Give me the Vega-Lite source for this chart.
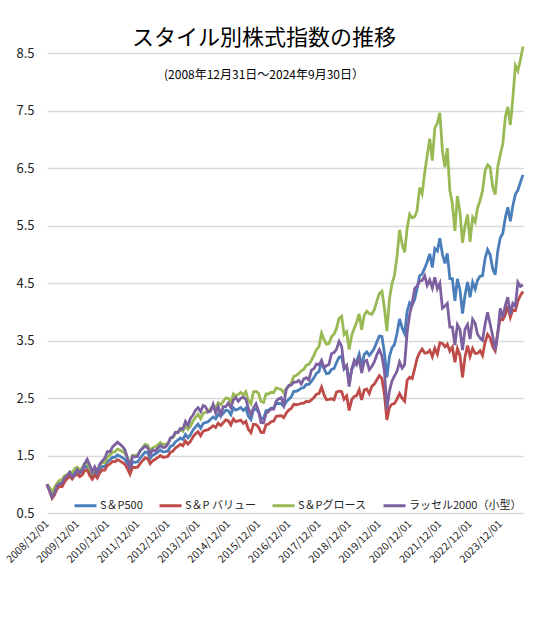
{
  "$schema": "https://vega.github.io/schema/vega-lite/v6.json",
  "width": 476,
  "height": 460,
  "autosize": {"type": "none"},
  "padding": {"left": 47, "top": 53, "right": 17, "bottom": 105},
  "background": "white",
  "title": {
    "text": "スタイル別株式指数の推移",
    "subtitle": "(2008年12月31日～2024年9月30日）",
    "font": "Noto Sans CJK JP",
    "fontSize": 22,
    "fontWeight": "normal",
    "color": "#000000",
    "subtitleFont": "Noto Sans CJK JP",
    "subtitleFontSize": 12,
    "subtitleColor": "#000000",
    "subtitlePadding": 20,
    "anchor": "middle",
    "frame": "group",
    "dx": -21,
    "offset": -41
  },
  "datasets": {
    "sp500": [
      {"d":"2008/12/01","v":1.000},
      {"d":"2009/01/01","v":0.914},{"d":"2009/02/01","v":0.814},{"d":"2009/03/01","v":0.883},{"d":"2009/04/01","v":0.966},{"d":"2009/05/01","v":1.018},{"d":"2009/06/01","v":1.018},{"d":"2009/07/01","v":1.093},{"d":"2009/08/01","v":1.130},{"d":"2009/09/01","v":1.170},{"d":"2009/10/01","v":1.147},{"d":"2009/11/01","v":1.213},{"d":"2009/12/01","v":1.235},
      {"d":"2010/01/01","v":1.189},{"d":"2010/02/01","v":1.223},{"d":"2010/03/01","v":1.295},{"d":"2010/04/01","v":1.314},{"d":"2010/05/01","v":1.206},{"d":"2010/06/01","v":1.141},{"d":"2010/07/01","v":1.220},{"d":"2010/08/01","v":1.162},{"d":"2010/09/01","v":1.263},{"d":"2010/10/01","v":1.310},{"d":"2010/11/01","v":1.307},{"d":"2010/12/01","v":1.392},
      {"d":"2011/01/01","v":1.424},{"d":"2011/02/01","v":1.469},{"d":"2011/03/01","v":1.468},{"d":"2011/04/01","v":1.510},{"d":"2011/05/01","v":1.489},{"d":"2011/06/01","v":1.462},{"d":"2011/07/01","v":1.431},{"d":"2011/08/01","v":1.350},{"d":"2011/09/01","v":1.253},{"d":"2011/10/01","v":1.388},{"d":"2011/11/01","v":1.381},{"d":"2011/12/01","v":1.392},
      {"d":"2012/01/01","v":1.453},{"d":"2012/02/01","v":1.512},{"d":"2012/03/01","v":1.559},{"d":"2012/04/01","v":1.548},{"d":"2012/05/01","v":1.451},{"d":"2012/06/01","v":1.508},{"d":"2012/07/01","v":1.527},{"d":"2012/08/01","v":1.557},{"d":"2012/09/01","v":1.595},{"d":"2012/10/01","v":1.563},{"d":"2012/11/01","v":1.568},{"d":"2012/12/01","v":1.579},
      {"d":"2013/01/01","v":1.659},{"d":"2013/02/01","v":1.677},{"d":"2013/03/01","v":1.737},{"d":"2013/04/01","v":1.769},{"d":"2013/05/01","v":1.805},{"d":"2013/06/01","v":1.778},{"d":"2013/07/01","v":1.866},{"d":"2013/08/01","v":1.808},{"d":"2013/09/01","v":1.862},{"d":"2013/10/01","v":1.945},{"d":"2013/11/01","v":1.999},{"d":"2013/12/01","v":2.046},
      {"d":"2014/01/01","v":1.974},{"d":"2014/02/01","v":2.059},{"d":"2014/03/01","v":2.073},{"d":"2014/04/01","v":2.086},{"d":"2014/05/01","v":2.130},{"d":"2014/06/01","v":2.170},{"d":"2014/07/01","v":2.138},{"d":"2014/08/01","v":2.218},{"d":"2014/09/01","v":2.184},{"d":"2014/10/01","v":2.234},{"d":"2014/11/01","v":2.289},{"d":"2014/12/01","v":2.279},
      {"d":"2015/01/01","v":2.209},{"d":"2015/02/01","v":2.330},{"d":"2015/03/01","v":2.289},{"d":"2015/04/01","v":2.309},{"d":"2015/05/01","v":2.333},{"d":"2015/06/01","v":2.284},{"d":"2015/07/01","v":2.329},{"d":"2015/08/01","v":2.183},{"d":"2015/09/01","v":2.126},{"d":"2015/10/01","v":2.302},{"d":"2015/11/01","v":2.303},{"d":"2015/12/01","v":2.263},
      {"d":"2016/01/01","v":2.148},{"d":"2016/02/01","v":2.139},{"d":"2016/03/01","v":2.280},{"d":"2016/04/01","v":2.287},{"d":"2016/05/01","v":2.322},{"d":"2016/06/01","v":2.324},{"d":"2016/07/01","v":2.406},{"d":"2016/08/01","v":2.404},{"d":"2016/09/01","v":2.401},{"d":"2016/10/01","v":2.354},{"d":"2016/11/01","v":2.434},{"d":"2016/12/01","v":2.479},
      {"d":"2017/01/01","v":2.523},{"d":"2017/02/01","v":2.617},{"d":"2017/03/01","v":2.616},{"d":"2017/04/01","v":2.640},{"d":"2017/05/01","v":2.670},{"d":"2017/06/01","v":2.683},{"d":"2017/07/01","v":2.735},{"d":"2017/08/01","v":2.736},{"d":"2017/09/01","v":2.789},{"d":"2017/10/01","v":2.851},{"d":"2017/11/01","v":2.931},{"d":"2017/12/01","v":2.960},
      {"d":"2018/01/01","v":3.126},{"d":"2018/02/01","v":3.005},{"d":"2018/03/01","v":2.924},{"d":"2018/04/01","v":2.932},{"d":"2018/05/01","v":2.995},{"d":"2018/06/01","v":3.010},{"d":"2018/07/01","v":3.118},{"d":"2018/08/01","v":3.212},{"d":"2018/09/01","v":3.226},{"d":"2018/10/01","v":3.002},{"d":"2018/11/01","v":3.056},{"d":"2018/12/01","v":2.775},
      {"d":"2019/01/01","v":2.994},{"d":"2019/02/01","v":3.083},{"d":"2019/03/01","v":3.138},{"d":"2019/04/01","v":3.261},{"d":"2019/05/01","v":3.047},{"d":"2019/06/01","v":3.257},{"d":"2019/07/01","v":3.300},{"d":"2019/08/01","v":3.240},{"d":"2019/09/01","v":3.296},{"d":"2019/10/01","v":3.363},{"d":"2019/11/01","v":3.477},{"d":"2019/12/01","v":3.577},
      {"d":"2020/01/01","v":3.571},{"d":"2020/02/01","v":3.271},{"d":"2020/03/01","v":2.861},{"d":"2020/04/01","v":3.224},{"d":"2020/05/01","v":3.370},{"d":"2020/06/01","v":3.432},{"d":"2020/07/01","v":3.622},{"d":"2020/08/01","v":3.875},{"d":"2020/09/01","v":3.723},{"d":"2020/10/01","v":3.620},{"d":"2020/11/01","v":4.010},{"d":"2020/12/01","v":4.158},
      {"d":"2021/01/01","v":4.112},{"d":"2021/02/01","v":4.219},{"d":"2021/03/01","v":4.399},{"d":"2021/04/01","v":4.629},{"d":"2021/05/01","v":4.654},{"d":"2021/06/01","v":4.758},{"d":"2021/07/01","v":4.866},{"d":"2021/08/01","v":5.007},{"d":"2021/09/01","v":4.769},{"d":"2021/10/01","v":5.099},{"d":"2021/11/01","v":5.056},{"d":"2021/12/01","v":5.277},
      {"d":"2022/01/01","v":4.999},{"d":"2022/02/01","v":4.842},{"d":"2022/03/01","v":5.016},{"d":"2022/04/01","v":4.575},{"d":"2022/05/01","v":4.575},{"d":"2022/06/01","v":4.191},{"d":"2022/07/01","v":4.573},{"d":"2022/08/01","v":4.379},{"d":"2022/09/01","v":3.970},{"d":"2022/10/01","v":4.287},{"d":"2022/11/01","v":4.517},{"d":"2022/12/01","v":4.251},
      {"d":"2023/01/01","v":4.513},{"d":"2023/02/01","v":4.395},{"d":"2023/03/01","v":4.550},{"d":"2023/04/01","v":4.616},{"d":"2023/05/01","v":4.628},{"d":"2023/06/01","v":4.927},{"d":"2023/07/01","v":5.081},{"d":"2023/08/01","v":4.991},{"d":"2023/09/01","v":4.747},{"d":"2023/10/01","v":4.643},{"d":"2023/11/01","v":5.057},{"d":"2023/12/01","v":5.281},
      {"d":"2024/01/01","v":5.365},{"d":"2024/02/01","v":5.642},{"d":"2024/03/01","v":5.817},{"d":"2024/04/01","v":5.575},{"d":"2024/05/01","v":5.843},{"d":"2024/06/01","v":6.045},{"d":"2024/07/01","v":6.114},{"d":"2024/08/01","v":6.253},{"d":"2024/09/01","v":6.380}
    ],
    "value": [
      {"d":"2008/12/01","v":1.000},
      {"d":"2009/01/01","v":0.878},{"d":"2009/02/01","v":0.757},{"d":"2009/03/01","v":0.813},{"d":"2009/04/01","v":0.918},{"d":"2009/05/01","v":0.967},{"d":"2009/06/01","v":0.957},{"d":"2009/07/01","v":1.039},{"d":"2009/08/01","v":1.096},{"d":"2009/09/01","v":1.135},{"d":"2009/10/01","v":1.090},{"d":"2009/11/01","v":1.152},{"d":"2009/12/01","v":1.176},
      {"d":"2010/01/01","v":1.133},{"d":"2010/02/01","v":1.165},{"d":"2010/03/01","v":1.234},{"d":"2010/04/01","v":1.252},{"d":"2010/05/01","v":1.149},{"d":"2010/06/01","v":1.087},{"d":"2010/07/01","v":1.162},{"d":"2010/08/01","v":1.107},{"d":"2010/09/01","v":1.204},{"d":"2010/10/01","v":1.248},{"d":"2010/11/01","v":1.246},{"d":"2010/12/01","v":1.327},
      {"d":"2011/01/01","v":1.354},{"d":"2011/02/01","v":1.396},{"d":"2011/03/01","v":1.391},{"d":"2011/04/01","v":1.428},{"d":"2011/05/01","v":1.406},{"d":"2011/06/01","v":1.377},{"d":"2011/07/01","v":1.346},{"d":"2011/08/01","v":1.267},{"d":"2011/09/01","v":1.174},{"d":"2011/10/01","v":1.297},{"d":"2011/11/01","v":1.289},{"d":"2011/12/01","v":1.298},
      {"d":"2012/01/01","v":1.359},{"d":"2012/02/01","v":1.414},{"d":"2012/03/01","v":1.458},{"d":"2012/04/01","v":1.447},{"d":"2012/05/01","v":1.356},{"d":"2012/06/01","v":1.410},{"d":"2012/07/01","v":1.435},{"d":"2012/08/01","v":1.464},{"d":"2012/09/01","v":1.499},{"d":"2012/10/01","v":1.470},{"d":"2012/11/01","v":1.474},{"d":"2012/12/01","v":1.487},
      {"d":"2013/01/01","v":1.557},{"d":"2013/02/01","v":1.575},{"d":"2013/03/01","v":1.631},{"d":"2013/04/01","v":1.661},{"d":"2013/05/01","v":1.695},{"d":"2013/06/01","v":1.670},{"d":"2013/07/01","v":1.752},{"d":"2013/08/01","v":1.698},{"d":"2013/09/01","v":1.748},{"d":"2013/10/01","v":1.826},{"d":"2013/11/01","v":1.877},{"d":"2013/12/01","v":1.915},
      {"d":"2014/01/01","v":1.845},{"d":"2014/02/01","v":1.925},{"d":"2014/03/01","v":1.938},{"d":"2014/04/01","v":1.950},{"d":"2014/05/01","v":1.981},{"d":"2014/06/01","v":2.018},{"d":"2014/07/01","v":1.988},{"d":"2014/08/01","v":2.063},{"d":"2014/09/01","v":2.022},{"d":"2014/10/01","v":2.069},{"d":"2014/11/01","v":2.120},{"d":"2014/12/01","v":2.106},
      {"d":"2015/01/01","v":2.032},{"d":"2015/02/01","v":2.137},{"d":"2015/03/01","v":2.090},{"d":"2015/04/01","v":2.101},{"d":"2015/05/01","v":2.114},{"d":"2015/06/01","v":2.060},{"d":"2015/07/01","v":2.094},{"d":"2015/08/01","v":1.954},{"d":"2015/09/01","v":1.896},{"d":"2015/10/01","v":2.044},{"d":"2015/11/01","v":2.038},{"d":"2015/12/01","v":1.994},
      {"d":"2016/01/01","v":1.901},{"d":"2016/02/01","v":1.900},{"d":"2016/03/01","v":2.034},{"d":"2016/04/01","v":2.046},{"d":"2016/05/01","v":2.087},{"d":"2016/06/01","v":2.096},{"d":"2016/07/01","v":2.180},{"d":"2016/08/01","v":2.187},{"d":"2016/09/01","v":2.192},{"d":"2016/10/01","v":2.159},{"d":"2016/11/01","v":2.240},{"d":"2016/12/01","v":2.290},
      {"d":"2017/01/01","v":2.321},{"d":"2017/02/01","v":2.394},{"d":"2017/03/01","v":2.383},{"d":"2017/04/01","v":2.391},{"d":"2017/05/01","v":2.408},{"d":"2017/06/01","v":2.409},{"d":"2017/07/01","v":2.442},{"d":"2017/08/01","v":2.433},{"d":"2017/09/01","v":2.466},{"d":"2017/10/01","v":2.509},{"d":"2017/11/01","v":2.565},{"d":"2017/12/01","v":2.578},
      {"d":"2018/01/01","v":2.689},{"d":"2018/02/01","v":2.554},{"d":"2018/03/01","v":2.471},{"d":"2018/04/01","v":2.477},{"d":"2018/05/01","v":2.486},{"d":"2018/06/01","v":2.468},{"d":"2018/07/01","v":2.604},{"d":"2018/08/01","v":2.618},{"d":"2018/09/01","v":2.613},{"d":"2018/10/01","v":2.477},{"d":"2018/11/01","v":2.536},{"d":"2018/12/01","v":2.284},
      {"d":"2019/01/01","v":2.470},{"d":"2019/02/01","v":2.528},{"d":"2019/03/01","v":2.542},{"d":"2019/04/01","v":2.642},{"d":"2019/05/01","v":2.468},{"d":"2019/06/01","v":2.638},{"d":"2019/07/01","v":2.656},{"d":"2019/08/01","v":2.576},{"d":"2019/09/01","v":2.702},{"d":"2019/10/01","v":2.741},{"d":"2019/11/01","v":2.817},{"d":"2019/12/01","v":2.890},
      {"d":"2020/01/01","v":2.839},{"d":"2020/02/01","v":2.551},{"d":"2020/03/01","v":2.120},{"d":"2020/04/01","v":2.338},{"d":"2020/05/01","v":2.393},{"d":"2020/06/01","v":2.403},{"d":"2020/07/01","v":2.481},{"d":"2020/08/01","v":2.577},{"d":"2020/09/01","v":2.495},{"d":"2020/10/01","v":2.444},{"d":"2020/11/01","v":2.807},{"d":"2020/12/01","v":2.861},
      {"d":"2021/01/01","v":2.837},{"d":"2021/02/01","v":3.017},{"d":"2021/03/01","v":3.189},{"d":"2021/04/01","v":3.287},{"d":"2021/05/01","v":3.351},{"d":"2021/06/01","v":3.283},{"d":"2021/07/01","v":3.285},{"d":"2021/08/01","v":3.330},{"d":"2021/09/01","v":3.219},{"d":"2021/10/01","v":3.365},{"d":"2021/11/01","v":3.261},{"d":"2021/12/01","v":3.462},
      {"d":"2022/01/01","v":3.449},{"d":"2022/02/01","v":3.390},{"d":"2022/03/01","v":3.436},{"d":"2022/04/01","v":3.317},{"d":"2022/05/01","v":3.385},{"d":"2022/06/01","v":3.122},{"d":"2022/07/01","v":3.361},{"d":"2022/08/01","v":3.240},{"d":"2022/09/01","v":2.858},{"d":"2022/10/01","v":3.215},{"d":"2022/11/01","v":3.410},{"d":"2022/12/01","v":3.222},
      {"d":"2023/01/01","v":3.362},{"d":"2023/02/01","v":3.275},{"d":"2023/03/01","v":3.276},{"d":"2023/04/01","v":3.324},{"d":"2023/05/01","v":3.239},{"d":"2023/06/01","v":3.474},{"d":"2023/07/01","v":3.607},{"d":"2023/08/01","v":3.543},{"d":"2023/09/01","v":3.394},{"d":"2023/10/01","v":3.320},{"d":"2023/11/01","v":3.641},{"d":"2023/12/01","v":3.881},
      {"d":"2024/01/01","v":3.863},{"d":"2024/02/01","v":3.949},{"d":"2024/03/01","v":4.101},{"d":"2024/04/01","v":3.903},{"d":"2024/05/01","v":4.032},{"d":"2024/06/01","v":4.020},{"d":"2024/07/01","v":4.188},{"d":"2024/08/01","v":4.284},{"d":"2024/09/01","v":4.351}
    ],
    "growth": [
      {"d":"2008/12/01","v":1.000},
      {"d":"2009/01/01","v":0.942},{"d":"2009/02/01","v":0.863},{"d":"2009/03/01","v":0.945},{"d":"2009/04/01","v":1.015},{"d":"2009/05/01","v":1.068},{"d":"2009/06/01","v":1.079},{"d":"2009/07/01","v":1.148},{"d":"2009/08/01","v":1.164},{"d":"2009/09/01","v":1.205},{"d":"2009/10/01","v":1.205},{"d":"2009/11/01","v":1.274},{"d":"2009/12/01","v":1.295},
      {"d":"2010/01/01","v":1.248},{"d":"2010/02/01","v":1.284},{"d":"2010/03/01","v":1.359},{"d":"2010/04/01","v":1.379},{"d":"2010/05/01","v":1.266},{"d":"2010/06/01","v":1.198},{"d":"2010/07/01","v":1.287},{"d":"2010/08/01","v":1.226},{"d":"2010/09/01","v":1.333},{"d":"2010/10/01","v":1.382},{"d":"2010/11/01","v":1.379},{"d":"2010/12/01","v":1.472},
      {"d":"2011/01/01","v":1.509},{"d":"2011/02/01","v":1.561},{"d":"2011/03/01","v":1.563},{"d":"2011/04/01","v":1.611},{"d":"2011/05/01","v":1.594},{"d":"2011/06/01","v":1.567},{"d":"2011/07/01","v":1.538},{"d":"2011/08/01","v":1.455},{"d":"2011/09/01","v":1.353},{"d":"2011/10/01","v":1.503},{"d":"2011/11/01","v":1.498},{"d":"2011/12/01","v":1.515},
      {"d":"2012/01/01","v":1.577},{"d":"2012/02/01","v":1.641},{"d":"2012/03/01","v":1.692},{"d":"2012/04/01","v":1.679},{"d":"2012/05/01","v":1.574},{"d":"2012/06/01","v":1.636},{"d":"2012/07/01","v":1.652},{"d":"2012/08/01","v":1.685},{"d":"2012/09/01","v":1.726},{"d":"2012/10/01","v":1.692},{"d":"2012/11/01","v":1.696},{"d":"2012/12/01","v":1.705},
      {"d":"2013/01/01","v":1.795},{"d":"2013/02/01","v":1.814},{"d":"2013/03/01","v":1.880},{"d":"2013/04/01","v":1.914},{"d":"2013/05/01","v":1.953},{"d":"2013/06/01","v":1.924},{"d":"2013/07/01","v":2.019},{"d":"2013/08/01","v":1.956},{"d":"2013/09/01","v":2.014},{"d":"2013/10/01","v":2.104},{"d":"2013/11/01","v":2.163},{"d":"2013/12/01","v":2.218},
      {"d":"2014/01/01","v":2.141},{"d":"2014/02/01","v":2.234},{"d":"2014/03/01","v":2.249},{"d":"2014/04/01","v":2.263},{"d":"2014/05/01","v":2.319},{"d":"2014/06/01","v":2.363},{"d":"2014/07/01","v":2.328},{"d":"2014/08/01","v":2.415},{"d":"2014/09/01","v":2.384},{"d":"2014/10/01","v":2.440},{"d":"2014/11/01","v":2.500},{"d":"2014/12/01","v":2.494},
      {"d":"2015/01/01","v":2.425},{"d":"2015/02/01","v":2.568},{"d":"2015/03/01","v":2.532},{"d":"2015/04/01","v":2.561},{"d":"2015/05/01","v":2.597},{"d":"2015/06/01","v":2.551},{"d":"2015/07/01","v":2.611},{"d":"2015/08/01","v":2.456},{"d":"2015/09/01","v":2.400},{"d":"2015/10/01","v":2.606},{"d":"2015/11/01","v":2.617},{"d":"2015/12/01","v":2.580},
      {"d":"2016/01/01","v":2.440},{"d":"2016/02/01","v":2.422},{"d":"2016/03/01","v":2.572},{"d":"2016/04/01","v":2.570},{"d":"2016/05/01","v":2.600},{"d":"2016/06/01","v":2.593},{"d":"2016/07/01","v":2.674},{"d":"2016/08/01","v":2.661},{"d":"2016/09/01","v":2.648},{"d":"2016/10/01","v":2.587},{"d":"2016/11/01","v":2.666},{"d":"2016/12/01","v":2.704},
      {"d":"2017/01/01","v":2.765},{"d":"2017/02/01","v":2.878},{"d":"2017/03/01","v":2.890},{"d":"2017/04/01","v":2.927},{"d":"2017/05/01","v":2.974},{"d":"2017/06/01","v":3.000},{"d":"2017/07/01","v":3.071},{"d":"2017/08/01","v":3.087},{"d":"2017/09/01","v":3.157},{"d":"2017/10/01","v":3.242},{"d":"2017/11/01","v":3.345},{"d":"2017/12/01","v":3.392},
      {"d":"2018/01/01","v":3.627},{"d":"2018/02/01","v":3.515},{"d":"2018/03/01","v":3.435},{"d":"2018/04/01","v":3.445},{"d":"2018/05/01","v":3.564},{"d":"2018/06/01","v":3.611},{"d":"2018/07/01","v":3.710},{"d":"2018/08/01","v":3.887},{"d":"2018/09/01","v":3.920},{"d":"2018/10/01","v":3.603},{"d":"2018/11/01","v":3.652},{"d":"2018/12/01","v":3.344},
      {"d":"2019/01/01","v":3.592},{"d":"2019/02/01","v":3.715},{"d":"2019/03/01","v":3.813},{"d":"2019/04/01","v":3.963},{"d":"2019/05/01","v":3.687},{"d":"2019/06/01","v":3.941},{"d":"2019/07/01","v":4.009},{"d":"2019/08/01","v":3.969},{"d":"2019/09/01","v":3.955},{"d":"2019/10/01","v":4.035},{"d":"2019/11/01","v":4.190},{"d":"2019/12/01","v":4.317},
      {"d":"2020/01/01","v":4.357},{"d":"2020/02/01","v":4.056},{"d":"2020/03/01","v":3.663},{"d":"2020/04/01","v":4.224},{"d":"2020/05/01","v":4.483},{"d":"2020/06/01","v":4.634},{"d":"2020/07/01","v":4.961},{"d":"2020/08/01","v":5.425},{"d":"2020/09/01","v":5.175},{"d":"2020/10/01","v":5.032},{"d":"2020/11/01","v":5.453},{"d":"2020/12/01","v":5.697},
      {"d":"2021/01/01","v":5.634},{"d":"2021/02/01","v":5.654},{"d":"2021/03/01","v":5.762},{"d":"2021/04/01","v":6.157},{"d":"2021/05/01","v":6.051},{"d":"2021/06/01","v":6.423},{"d":"2021/07/01","v":6.715},{"d":"2021/08/01","v":7.010},{"d":"2021/09/01","v":6.629},{"d":"2021/10/01","v":7.189},{"d":"2021/11/01","v":7.281},{"d":"2021/12/01","v":7.461},
      {"d":"2022/01/01","v":6.799},{"d":"2022/02/01","v":6.513},{"d":"2022/03/01","v":6.846},{"d":"2022/04/01","v":6.107},{"d":"2022/05/01","v":5.878},{"d":"2022/06/01","v":5.406},{"d":"2022/07/01","v":6.013},{"d":"2022/08/01","v":5.736},{"d":"2022/09/01","v":5.200},{"d":"2022/10/01","v":5.487},{"d":"2022/11/01","v":5.692},{"d":"2022/12/01","v":5.216},
      {"d":"2023/01/01","v":5.642},{"d":"2023/02/01","v":5.560},{"d":"2023/03/01","v":5.801},{"d":"2023/04/01","v":5.932},{"d":"2023/05/01","v":6.108},{"d":"2023/06/01","v":6.455},{"d":"2023/07/01","v":6.554},{"d":"2023/08/01","v":6.513},{"d":"2023/09/01","v":6.172},{"d":"2023/10/01","v":6.036},{"d":"2023/11/01","v":6.524},{"d":"2023/12/01","v":6.728},
      {"d":"2024/01/01","v":6.920},{"d":"2024/02/01","v":7.391},{"d":"2024/03/01","v":7.562},{"d":"2024/04/01","v":7.248},{"d":"2024/05/01","v":7.712},{"d":"2024/06/01","v":8.282},{"d":"2024/07/01","v":8.192},{"d":"2024/08/01","v":8.380},{"d":"2024/09/01","v":8.613}
    ],
    "russell": [
      {"d":"2008/12/01","v":1.000},
      {"d":"2009/01/01","v":0.888},{"d":"2009/02/01","v":0.779},{"d":"2009/03/01","v":0.846},{"d":"2009/04/01","v":0.976},{"d":"2009/05/01","v":1.004},{"d":"2009/06/01","v":1.018},{"d":"2009/07/01","v":1.116},{"d":"2009/08/01","v":1.145},{"d":"2009/09/01","v":1.210},{"d":"2009/10/01","v":1.127},{"d":"2009/11/01","v":1.161},{"d":"2009/12/01","v":1.252},
      {"d":"2010/01/01","v":1.205},{"d":"2010/02/01","v":1.257},{"d":"2010/03/01","v":1.359},{"d":"2010/04/01","v":1.435},{"d":"2010/05/01","v":1.333},{"d":"2010/06/01","v":1.220},{"d":"2010/07/01","v":1.303},{"d":"2010/08/01","v":1.205},{"d":"2010/09/01","v":1.354},{"d":"2010/10/01","v":1.408},{"d":"2010/11/01","v":1.456},{"d":"2010/12/01","v":1.569},
      {"d":"2011/01/01","v":1.564},{"d":"2011/02/01","v":1.649},{"d":"2011/03/01","v":1.689},{"d":"2011/04/01","v":1.732},{"d":"2011/05/01","v":1.698},{"d":"2011/06/01","v":1.657},{"d":"2011/07/01","v":1.596},{"d":"2011/08/01","v":1.455},{"d":"2011/09/01","v":1.290},{"d":"2011/10/01","v":1.485},{"d":"2011/11/01","v":1.476},{"d":"2011/12/01","v":1.483},
      {"d":"2012/01/01","v":1.587},{"d":"2012/02/01","v":1.624},{"d":"2012/03/01","v":1.662},{"d":"2012/04/01","v":1.636},{"d":"2012/05/01","v":1.525},{"d":"2012/06/01","v":1.599},{"d":"2012/07/01","v":1.576},{"d":"2012/08/01","v":1.626},{"d":"2012/09/01","v":1.677},{"d":"2012/10/01","v":1.639},{"d":"2012/11/01","v":1.646},{"d":"2012/12/01","v":1.701},
      {"d":"2013/01/01","v":1.806},{"d":"2013/02/01","v":1.824},{"d":"2013/03/01","v":1.905},{"d":"2013/04/01","v":1.897},{"d":"2013/05/01","v":1.970},{"d":"2013/06/01","v":1.957},{"d":"2013/07/01","v":2.093},{"d":"2013/08/01","v":2.024},{"d":"2013/09/01","v":2.150},{"d":"2013/10/01","v":2.203},{"d":"2013/11/01","v":2.288},{"d":"2013/12/01","v":2.330},
      {"d":"2014/01/01","v":2.264},{"d":"2014/02/01","v":2.369},{"d":"2014/03/01","v":2.349},{"d":"2014/04/01","v":2.256},{"d":"2014/05/01","v":2.271},{"d":"2014/06/01","v":2.389},{"d":"2014/07/01","v":2.243},{"d":"2014/08/01","v":2.351},{"d":"2014/09/01","v":2.206},{"d":"2014/10/01","v":2.350},{"d":"2014/11/01","v":2.349},{"d":"2014/12/01","v":2.412},
      {"d":"2015/01/01","v":2.333},{"d":"2015/02/01","v":2.469},{"d":"2015/03/01","v":2.508},{"d":"2015/04/01","v":2.443},{"d":"2015/05/01","v":2.496},{"d":"2015/06/01","v":2.511},{"d":"2015/07/01","v":2.480},{"d":"2015/08/01","v":2.321},{"d":"2015/09/01","v":2.204},{"d":"2015/10/01","v":2.326},{"d":"2015/11/01","v":2.399},{"d":"2015/12/01","v":2.274},
      {"d":"2016/01/01","v":2.073},{"d":"2016/02/01","v":2.070},{"d":"2016/03/01","v":2.231},{"d":"2016/04/01","v":2.264},{"d":"2016/05/01","v":2.312},{"d":"2016/06/01","v":2.306},{"d":"2016/07/01","v":2.443},{"d":"2016/08/01","v":2.483},{"d":"2016/09/01","v":2.506},{"d":"2016/10/01","v":2.385},{"d":"2016/11/01","v":2.648},{"d":"2016/12/01","v":2.717},
      {"d":"2017/01/01","v":2.727},{"d":"2017/02/01","v":2.776},{"d":"2017/03/01","v":2.775},{"d":"2017/04/01","v":2.804},{"d":"2017/05/01","v":2.743},{"d":"2017/06/01","v":2.834},{"d":"2017/07/01","v":2.853},{"d":"2017/08/01","v":2.814},{"d":"2017/09/01","v":2.985},{"d":"2017/10/01","v":3.009},{"d":"2017/11/01","v":3.092},{"d":"2017/12/01","v":3.074},
      {"d":"2018/01/01","v":3.153},{"d":"2018/02/01","v":3.028},{"d":"2018/03/01","v":3.062},{"d":"2018/04/01","v":3.087},{"d":"2018/05/01","v":3.271},{"d":"2018/06/01","v":3.290},{"d":"2018/07/01","v":3.345},{"d":"2018/08/01","v":3.485},{"d":"2018/09/01","v":3.397},{"d":"2018/10/01","v":3.026},{"d":"2018/11/01","v":3.070},{"d":"2018/12/01","v":2.700},
      {"d":"2019/01/01","v":3.002},{"d":"2019/02/01","v":3.155},{"d":"2019/03/01","v":3.083},{"d":"2019/04/01","v":3.186},{"d":"2019/05/01","v":2.934},{"d":"2019/06/01","v":3.137},{"d":"2019/07/01","v":3.153},{"d":"2019/08/01","v":2.993},{"d":"2019/09/01","v":3.050},{"d":"2019/10/01","v":3.128},{"d":"2019/11/01","v":3.253},{"d":"2019/12/01","v":3.341},
      {"d":"2020/01/01","v":3.232},{"d":"2020/02/01","v":2.956},{"d":"2020/03/01","v":2.309},{"d":"2020/04/01","v":2.624},{"d":"2020/05/01","v":2.791},{"d":"2020/06/01","v":2.886},{"d":"2020/07/01","v":2.964},{"d":"2020/08/01","v":3.127},{"d":"2020/09/01","v":3.019},{"d":"2020/10/01","v":3.080},{"d":"2020/11/01","v":3.644},{"d":"2020/12/01","v":3.954},
      {"d":"2021/01/01","v":4.152},{"d":"2021/02/01","v":4.407},{"d":"2021/03/01","v":4.446},{"d":"2021/04/01","v":4.538},{"d":"2021/05/01","v":4.543},{"d":"2021/06/01","v":4.626},{"d":"2021/07/01","v":4.457},{"d":"2021/08/01","v":4.553},{"d":"2021/09/01","v":4.414},{"d":"2021/10/01","v":4.599},{"d":"2021/11/01","v":4.403},{"d":"2021/12/01","v":4.496},
      {"d":"2022/01/01","v":4.061},{"d":"2022/02/01","v":4.101},{"d":"2022/03/01","v":4.145},{"d":"2022/04/01","v":3.732},{"d":"2022/05/01","v":3.732},{"d":"2022/06/01","v":3.420},{"d":"2022/07/01","v":3.775},{"d":"2022/08/01","v":3.692},{"d":"2022/09/01","v":3.333},{"d":"2022/10/01","v":3.698},{"d":"2022/11/01","v":3.777},{"d":"2022/12/01","v":3.526},
      {"d":"2023/01/01","v":3.868},{"d":"2023/02/01","v":3.798},{"d":"2023/03/01","v":3.609},{"d":"2023/04/01","v":3.542},{"d":"2023/05/01","v":3.503},{"d":"2023/06/01","v":3.782},{"d":"2023/07/01","v":3.989},{"d":"2023/08/01","v":3.787},{"d":"2023/09/01","v":3.574},{"d":"2023/10/01","v":3.328},{"d":"2023/11/01","v":3.622},{"d":"2023/12/01","v":4.059},
      {"d":"2024/01/01","v":3.899},{"d":"2024/02/01","v":4.114},{"d":"2024/03/01","v":4.254},{"d":"2024/04/01","v":3.952},{"d":"2024/05/01","v":4.145},{"d":"2024/06/01","v":4.100},{"d":"2024/07/01","v":4.514},{"d":"2024/08/01","v":4.440},{"d":"2024/09/01","v":4.465}
    ]
  },
  "encoding": {
    "x": {
      "field": "d",
      "type": "temporal",
      "scale": {
        "domain": [
          {"year": 2008, "month": 12, "date": 1},
          {"year": 2024, "month": 9, "date": 1}
        ]
      },
      "axis": {
        "title": null,
        "values": [
          {"year": 2008, "month": 12, "date": 1},
          {"year": 2009, "month": 12, "date": 1},
          {"year": 2010, "month": 12, "date": 1},
          {"year": 2011, "month": 12, "date": 1},
          {"year": 2012, "month": 12, "date": 1},
          {"year": 2013, "month": 12, "date": 1},
          {"year": 2014, "month": 12, "date": 1},
          {"year": 2015, "month": 12, "date": 1},
          {"year": 2016, "month": 12, "date": 1},
          {"year": 2017, "month": 12, "date": 1},
          {"year": 2018, "month": 12, "date": 1},
          {"year": 2019, "month": 12, "date": 1},
          {"year": 2020, "month": 12, "date": 1},
          {"year": 2021, "month": 12, "date": 1},
          {"year": 2022, "month": 12, "date": 1},
          {"year": 2023, "month": 12, "date": 1}
        ],
        "format": "%Y/%m/%d",
        "labelAngle": -45,
        "labelAlign": "right",
        "labelBaseline": "middle",
        "labelFontSize": 10.5,
        "labelPadding": 9,
        "labelOverlap": false,
        "labelFlush": false,
        "grid": false,
        "ticks": false,
        "domain": false
      }
    },
    "y": {
      "field": "v",
      "type": "quantitative",
      "scale": {"domain": [0.5, 8.5], "nice": false, "zero": false},
      "axis": {
        "title": null,
        "values": [0.5, 1.5, 2.5, 3.5, 4.5, 5.5, 6.5, 7.5, 8.5],
        "format": ".1f",
        "labelFontSize": 13,
        "labelPadding": 13,
        "grid": true,
        "gridColor": "#d9d9d9",
        "gridWidth": 1.3,
        "ticks": false,
        "domain": false
      }
    }
  },
  "layer": [
    {
      "data": {"name": "sp500"},
      "mark": {"type": "line", "strokeWidth": 2.8},
      "encoding": {
        "color": {
          "datum": "S＆P500",
          "type": "nominal",
          "scale": {
            "domain": ["S＆P500", "S＆P バリュー", "S＆Pグロース", "ラッセル2000（小型）"],
            "range": ["#4a7ebb", "#be4b48", "#98b954", "#7d60a0"]
          },
          "legend": {
            "orient": "none",
            "legendX": 26,
            "legendY": 440,
            "direction": "horizontal",
            "title": null,
            "symbolType": "stroke",
            "symbolSize": 484,
            "symbolStrokeWidth": 3,
            "labelFontSize": 11,
            "labelOffset": 2,
            "columnPadding": 10,
            "padding": 0,
            "labelLimit": 0
          }
        }
      }
    },
    {
      "data": {"name": "value"},
      "mark": {"type": "line", "strokeWidth": 2.8},
      "encoding": {"color": {"datum": "S＆P バリュー", "type": "nominal"}}
    },
    {
      "data": {"name": "growth"},
      "mark": {"type": "line", "strokeWidth": 2.8},
      "encoding": {"color": {"datum": "S＆Pグロース", "type": "nominal"}}
    },
    {
      "data": {"name": "russell"},
      "mark": {"type": "line", "strokeWidth": 2.8},
      "encoding": {"color": {"datum": "ラッセル2000（小型）", "type": "nominal"}}
    },
    {
      "data": {"values": [{"t": "1.0 = 2008年12月"}]},
      "mark": {"type": "text", "align": "left", "baseline": "middle", "fontSize": 14, "color": "#000000"},
      "encoding": {
        "x": {"datum": {"year": 2008, "month": 9, "date": 7}, "type": "temporal"},
        "y": {"datum": 2.86, "type": "quantitative"},
        "text": {"field": "t"}
      }
    }
  ],
  "config": {
    "font": "Noto Sans CJK JP",
    "view": {"stroke": null},
    "axis": {"labelFont": "Noto Sans CJK JP", "labelColor": "#222222"},
    "legend": {"labelFont": "Noto Sans CJK JP", "labelColor": "#222222"}
  }
}
